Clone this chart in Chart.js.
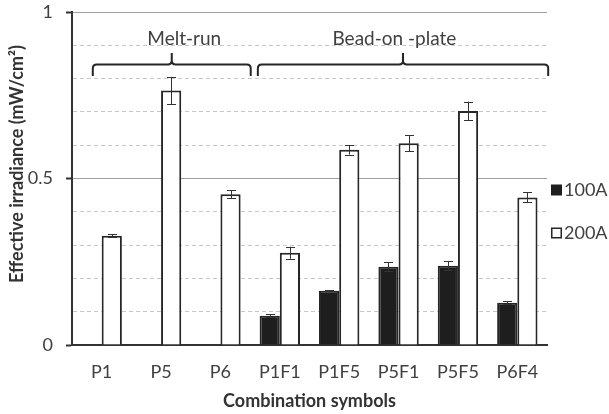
<!DOCTYPE html>
<html>
<head>
<meta charset="utf-8">
<script src="https://cdn.jsdelivr.net/npm/chart.js@4.4.0/dist/chart.umd.min.js"></script>
<style>
html,body{margin:0;padding:0;background:#fff;}
#wrap{width:609px;height:414px;position:relative;}
</style>
</head>
<body>
<div id="wrap"><canvas id="c" width="609" height="414"></canvas></div>
<script>
// ---- data ----
const categories = ["P1","P5","P6","P1F1","P1F5","P5F1","P5F5","P6F4"];
const series100A = [null,null,null,0.088,0.163,0.235,0.238,0.127];
const error100A  = [null,null,null,0.004,0.002,0.014,0.014,0.005];
const series200A = [0.328,0.764,0.453,0.277,0.586,0.606,0.703,0.443];
const error200A  = [0.005,0.041,0.012,0.018,0.014,0.024,0.028,0.015];
const yTickLabels = {0:"0",0.5:"0.5",1:"1"};
const groups = [
  {label:"Melt-run", from:-0.15, to:2.51, textAt:1.39},
  {label:"Bead-on -plate", from:2.63, to:7.52, textAt:4.93}
];
const legendItems = [
  {label:"100A", fill:"#1e1e1e"},
  {label:"200A", fill:"#ffffff"}
];
const errors = [error100A, error200A];

const FONT = "Lato, 'Open Sans', sans-serif";
const TXT = "#404040";

const extrasPlugin = {
  id:"extras",
  afterDatasetsDraw(chart){
    const ctx = chart.ctx;
    ctx.save();
    ctx.strokeStyle = "#333";
    ctx.lineWidth = 1;
    chart.data.datasets.forEach((ds, di) => {
      const meta = chart.getDatasetMeta(di);
      const ys = chart.scales.y;
      meta.data.forEach((bar, i) => {
        const v = ds.data[i], e = errors[di][i];
        if (v == null || e == null) return;
        const x = Math.round(bar.x) + 0.5;
        const y1 = ys.getPixelForValue(v + e), y2 = ys.getPixelForValue(v - e);
        ctx.beginPath();
        ctx.moveTo(x, y1); ctx.lineTo(x, y2);
        ctx.moveTo(x - 4.5, Math.round(y1)+0.5); ctx.lineTo(x + 4.5, Math.round(y1)+0.5);
        ctx.moveTo(x - 4.5, Math.round(y2)+0.5); ctx.lineTo(x + 4.5, Math.round(y2)+0.5);
        ctx.stroke();
      });
    });
    ctx.restore();
  },
  afterDraw(chart){
    const ctx = chart.ctx;
    const xs = chart.scales.x, ys = chart.scales.y;
    ctx.save();
    // brackets
    ctx.strokeStyle = "#262626";
    ctx.lineWidth = 2;
    const yH = ys.getPixelForValue(0.842), yEnd = ys.getPixelForValue(0.808), yPeak = ys.getPixelForValue(0.877);
    const r = 4;
    groups.forEach(g => {
      const x1 = xs.getPixelForValue(g.from), x2 = xs.getPixelForValue(g.to);
      const xm = (x1 + x2) / 2;
      ctx.beginPath();
      ctx.moveTo(x1, yEnd);
      ctx.lineTo(x1, yH + r);
      ctx.quadraticCurveTo(x1, yH, x1 + r, yH);
      ctx.lineTo(xm - r, yH);
      ctx.quadraticCurveTo(xm, yH, xm, yH - r);
      ctx.lineTo(xm, yPeak);
      ctx.moveTo(xm, yH - r);
      ctx.quadraticCurveTo(xm, yH, xm + r, yH);
      ctx.lineTo(x2 - r, yH);
      ctx.quadraticCurveTo(x2, yH, x2, yH + r);
      ctx.lineTo(x2, yEnd);
      ctx.stroke();
      ctx.fillStyle = TXT;
      ctx.font = "19px " + FONT;
      ctx.textAlign = "center";
      ctx.textBaseline = "middle";
      ctx.fillText(g.label, xs.getPixelForValue(g.textAt), ys.getPixelForValue(0.919));
    });
    // legend
    const lx = chart.chartArea.right + 4;
    legendItems.forEach((it, i) => {
      const cy = 190 + i * 43;
      ctx.fillStyle = it.fill;
      ctx.fillRect(lx, cy - 5.5, 11, 11);
      ctx.strokeStyle = "#262626";
      ctx.lineWidth = 1.5;
      if (it.fill === "#ffffff") ctx.strokeRect(lx + 0.75, cy - 4.75, 9.5, 9.5);
      ctx.fillStyle = TXT;
      ctx.font = "18px " + FONT;
      ctx.textAlign = "left";
      ctx.textBaseline = "middle";
      ctx.fillText(it.label, lx + 13, cy);
    });
    // y title
    ctx.translate(17, 164);
    ctx.rotate(-Math.PI / 2);
    ctx.font = "bold 18px " + FONT;
    ctx.fillStyle = "#333";
    ctx.textAlign = "center";
    ctx.textBaseline = "middle";
    ctx.fillText("Effective irradiance (mW/cm\u00B2)", 0, 0);
    ctx.restore();
  }
};

new Chart(document.getElementById("c"), {
  type: "bar",
  data: {
    labels: categories,
    datasets: [
      {label:"100A", data:series100A, backgroundColor:"#1e1e1e", borderColor:"#262626", borderWidth:2},
      {label:"200A", data:series200A, backgroundColor:"#ffffff", borderColor:"#262626", borderWidth:2}
    ]
  },
  options: {
    responsive:false,
    animation:false,
    devicePixelRatio:1,
    categoryPercentage:0.68,
    barPercentage:1,
    layout:{padding:{left:0,right:62,top:12,bottom:0}},
    plugins:{legend:{display:false}, tooltip:{enabled:false}},
    scales:{
      x:{
        grid:{display:false, drawTicks:false},
        border:{display:true, color:"#333", width:2},
        ticks:{color:TXT, font:{family:FONT, size:18}, padding:16},
        title:{display:true, text:"Combination symbols", color:"#333", font:{family:FONT, size:18, weight:"bold"}, padding:{top:0,bottom:2}},
        afterFit(s){ s.height = 69; }
      },
      y:{
        min:0, max:1,
        ticks:{stepSize:0.1, color:TXT, font:{family:FONT, size:18}, padding:13,
          callback:(v)=>{ const k = Math.round(v*10)/10; return (k in yTickLabels) ? yTickLabels[k] : ""; }},
        grid:{
          color:(c)=>{ if(!c.tick) return "#999"; const v=Math.round(c.tick.value*10); return (v%5===0) ? "#a0a0a0" : "#c8c8c8"; },
          tickColor:(c)=>{ if(!c.tick) return "#333"; const v=Math.round(c.tick.value*10); return (v%5===0) ? "#333" : "rgba(0,0,0,0)"; },
          tickLength:6, tickWidth:2, lineWidth:1
        },
        border:{display:true, color:"#333", width:2,
          dash:(c)=>{ if(!c.tick) return []; const v=Math.round(c.tick.value*10); return (v%5===0) ? [] : [4,3]; }},
        afterFit(s){ s.width = 72; s.paddingTop = 8; s.paddingBottom = 8; }
      }
    }
  },
  plugins:[extrasPlugin]
});
</script>
</body>
</html>
